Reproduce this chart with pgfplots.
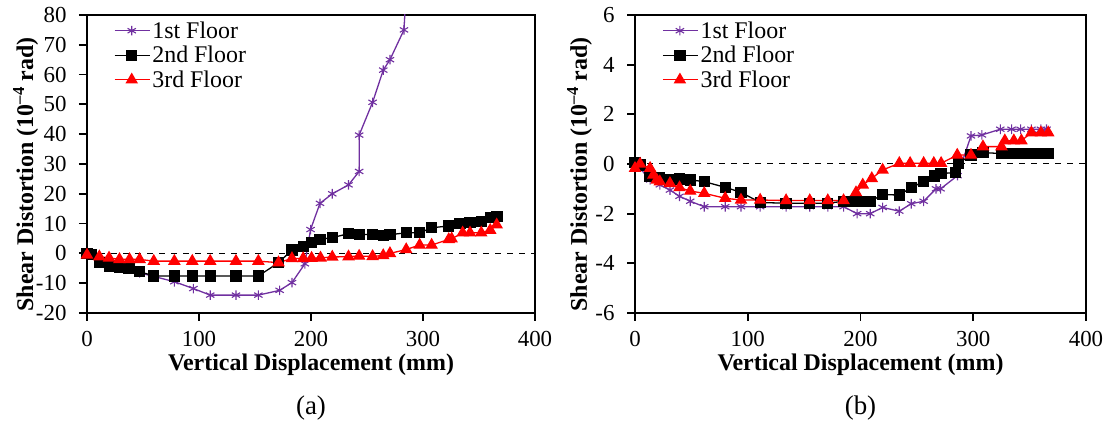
\documentclass[border=0pt]{standalone}
\usepackage{pgfplots}
\pgfplotsset{compat=1.18}
\usepackage{fontspec}
\setmainfont{Liberation Serif}
\definecolor{purp}{HTML}{7030A0}

\begin{document}
\begin{tikzpicture}
\useasboundingbox (0bp,0bp) rectangle (1115bp,432bp);
\pgfplotsset{
 myaxis/.style={
  scale only axis, width=448bp, height=298bp,
  xmin=0, xmax=400, xtick={0,100,200,300,400},
  axis line style={line width=1.8bp},
  every tick/.style={line width=1.8bp, black},
  major tick length=8bp,
  tick align=outside, xtick pos=bottom, ytick pos=left,
  tick label style={font=\fontsize{23}{23}\selectfont},
  yticklabel style={xshift=-9bp},
  xticklabel style={yshift=-7bp},
  /pgf/number format/assume math mode=true,
  label style={font=\bfseries\fontsize{24}{24}\selectfont},
  xlabel={Vertical Displacement (mm)},
  ylabel={Shear Distortion (10\textsuperscript{–4} rad)},
  xlabel style={at={(axis description cs:0.5,-0.1745)}, anchor=center},
  legend style={draw=none, fill=none, font=\fontsize{24}{24}\selectfont, anchor=north west, row sep=2.5bp, inner sep=0pt},
  legend cell align=left,
  legend image code/.code={\draw[mark repeat=2,mark phase=2] plot coordinates {(0bp,0bp)(17bp,0bp)(35bp,0bp)};},
 },
 s1/.style={color=purp, line width=1.3bp, mark=asterisk, mark size=4.8bp, mark options={line width=1.1bp}},
 s2/.style={color=black, line width=1.3bp, mark=square*, mark size=5bp},
 s3/.style={color=red, line width=1.3bp, mark=triangle*, mark size=6bp},
 zl/.style={black, line width=1bp, dash pattern=on 6bp off 6bp, forget plot},
}

% ---------- (a) ----------
\begin{axis}[myaxis, name=A, at={(87bp,119bp)}, anchor=south west,
  ymin=-20, ymax=80, ytick={-20,-10,0,10,20,30,40,50,60,70,80},
  ylabel style={at={(axis description cs:-0.137,0.465)}, anchor=center},
  legend style={at={(axis description cs:0.06,0.985)}}]
\addplot[zl] coordinates {(0,0) (400,0)};
\addplot[s1] coordinates {
(0,0) (4,-0.3) (11,-2.5) (20,-3.8) (29,-4.5) (37.5,-5.2) (47,-6.5) (78,-9.5) (95,-11.8)
(110,-14) (133,-14) (153,-14) (172,-12.4) (183,-9.8) (194.5,-3.5) (199.6,8) (208,16.8)
(219,20) (233.5,23) (243,27.5) (243,39.7) (255,50.7) (264.5,61.5) (270.5,65) (283,75) (286,95)};
\addlegendentry{1st Floor}
\addplot[s2] coordinates {
(0,0) (4,-0.3) (11,-3.1) (20,-4.2) (29,-4.6) (37.5,-5.1) (47,-6.1) (59.6,-7.6) (78,-7.6)
(94,-7.6) (110,-7.6) (133,-7.6) (153,-7.6) (171,-3.1) (183,1.1) (193,2.2) (200.5,3.6)
(208,4.7) (219,5.3) (233.5,6.6) (243,6.4) (255,6.3) (264.5,6.1) (270.5,6.3) (285,6.9)
(297,6.9) (307.7,8.6) (323,9.2) (333,10.1) (342,10.3) (352,10.8) (360,12) (366,12.3)};
\addlegendentry{2nd Floor}
\addplot[s3] coordinates {
(0,-0.5) (11,-1.1) (19.7,-1.5) (29,-2) (38,-2) (47,-2) (59.6,-2.6) (78,-2.6) (94,-2.6)
(110,-2.6) (133,-2.6) (153,-2.6) (171,-3.1) (183,-1.7) (193,-1.7) (200.5,-1.6) (208.5,-1.5)
(219,-1.2) (233.5,-1.1) (243,-0.9) (255,-1) (264.5,-0.7) (270.5,0) (285,1.3) (297,2.8)
(307.7,2.8) (323,4.7) (325.6,4.9) (335.4,6.9) (342,6.9) (352,6.9) (360,7.8) (365.8,9.6)};
\addlegendentry{3rd Floor}
\end{axis}
\node[font=\fontsize{27}{27}\selectfont] at ([yshift=-95bp]A.south) {(a)};

% ---------- (b) ----------
\begin{axis}[myaxis, name=B, at={(635bp,119bp)}, anchor=south west, width=451bp,
  ymin=-6, ymax=6, ytick={-6,-4,-2,0,2,4,6},
  ylabel style={at={(axis description cs:-0.123,0.465)}, anchor=center},
  legend style={at={(axis description cs:0.06,0.985)}}]
\addplot[zl] coordinates {(0,0) (400,0)};
\addplot[s1] coordinates {
(0,0) (3,-0.1) (13.4,-0.64) (22,-0.84) (31,-1.05) (39.5,-1.3) (49,-1.5) (61.4,-1.72)
(80,-1.72) (94,-1.72) (111,-1.72) (134,-1.72) (155,-1.72) (171,-1.72) (185,-1.72)
(197,-2) (208.6,-2) (219.6,-1.75) (234.4,-1.9) (245,-1.6) (256,-1.5) (267,-1) (271,-1)
(286,-0.47) (298,1.13) (307.7,1.17) (324,1.4) (334,1.4) (342,1.4) (351.6,1.4) (360,1.4) (365,1.4)};
\addlegendentry{1st Floor}
\addplot[s2] coordinates {
(0,0.05) (4.5,-0.04) (13.4,-0.5) (22,-0.55) (30.6,-0.64) (39.5,-0.6) (49,-0.64) (61.4,-0.71)
(80,-0.94) (94,-1.14) (111,-1.55) (134,-1.58) (155,-1.58) (171,-1.58) (185,-1.5) (194,-1.5)
(202,-1.5) (209,-1.5) (219.6,-1.23) (234.4,-1.25) (245,-0.95) (256,-0.71) (265.6,-0.48)
(271.5,-0.38) (284,-0.35) (287,0.03) (298,0.36) (308.6,0.46) (325,0.42) (335,0.42)
(342.7,0.42) (353,0.42) (360.5,0.42) (366.5,0.42)};
\addlegendentry{2nd Floor}
\addplot[s3] coordinates {
(0,-0.17) (4.5,0) (13.4,-0.17) (16.3,-0.44) (19.3,-0.64) (22,-0.71) (31,-0.78) (39.5,-0.95)
(49,-1.09) (61.4,-1.18) (80,-1.38) (94,-1.45) (111,-1.45) (134,-1.47) (155,-1.47) (171,-1.47)
(185,-1.47) (196,-1.15) (202,-0.84) (210,-0.58) (219.6,-0.24) (234.4,0.03) (244,0.03)
(256,0.03) (265,0.03) (271.5,0.03) (285.8,0.36) (298,0.36) (308.6,0.7) (325,0.7) (328,0.94)
(336,0.94) (342.7,0.94) (351.6,1.26) (360,1.26) (366.5,1.26)};
\addlegendentry{3rd Floor}
\end{axis}
\node[font=\fontsize{27}{27}\selectfont] at ([yshift=-95bp]B.south) {(b)};
\end{tikzpicture}
\end{document}
